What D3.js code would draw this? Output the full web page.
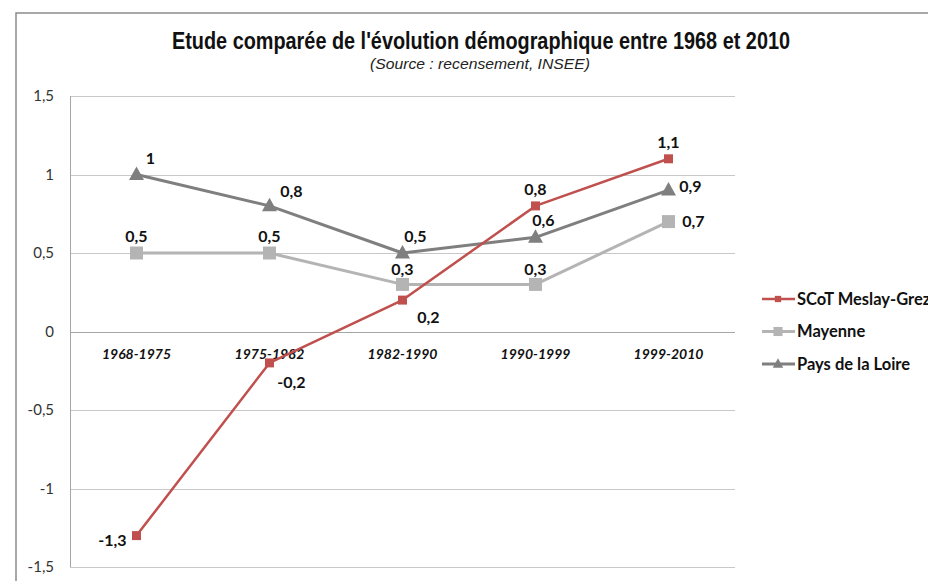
<!DOCTYPE html>
<html>
<head>
<meta charset="utf-8">
<script src="https://cdn.jsdelivr.net/npm/d3@7"></script>
<style>
  body { margin: 0; background: #fff; }
  svg { display: block; }
</style>
</head>
<body>
<div id="chart"></div>
<script>
// Data
const periods = ['1968-1975', '1975-1982', '1982-1990', '1990-1999', '1999-2010'];
const scotValues = [-1.3, -0.2, 0.2, 0.8, 1.1];
const mayenneValues = [0.5, 0.5, 0.3, 0.3, 0.7];
const loireValues = [1, 0.8, 0.5, 0.6, 0.9];
const seriesNames = ['SCoT Meslay-Grez', 'Mayenne', 'Pays de la Loire'];
const yTicks = [-1.5, -1, -0.5, 0, 0.5, 1, 1.5];

// label offsets (dx, dy) per point, for each series
const scotOffsets = [[-24, 5], [22, 20], [26, 18], [0, -16], [0, -16]];
const mayenneOffsets = [[0, -16], [0, -16], [0, -14], [0, -14], [25, 0]];
const loireOffsets = [[14, -16], [22, -14], [13, -16], [8, -16], [22, -3]];

const width = 928;
const height = 581;
const margin = { top: 96, left: 70, right: 193, bottom: 14 };

const svg = d3.select('#chart')
  .append('svg')
  .attr('width', width)
  .attr('height', height);

// outer chart frame
svg.append('path')
  .attr('d', `M16,${height + 2} V13 H${width + 2}`)
  .attr('fill', 'none')
  .attr('stroke', '#8c8c8c')
  .attr('stroke-width', 1.5);

const x = d3.scaleBand()
  .domain(periods)
  .range([margin.left, width - margin.right]);

const y = d3.scaleLinear()
  .domain([-1.5, 1.5])
  .range([height - margin.bottom, margin.top]);

// gridlines
svg.append('g')
  .selectAll('line')
  .data(yTicks)
  .enter()
  .append('line')
  .attr('x1', margin.left)
  .attr('x2', width - margin.right)
  .attr('y1', (d) => Math.round(y(d)) + 0.5)
  .attr('y2', (d) => Math.round(y(d)) + 0.5)
  .attr('stroke', (d) => d === 0 ? '#a6a6a6' : '#c8c8c8')
  .attr('stroke-width', 1);

// y axis line
svg.append('line')
  .attr('x1', margin.left + 0.5)
  .attr('x2', margin.left + 0.5)
  .attr('y1', y(1.5))
  .attr('y2', y(-1.5))
  .attr('stroke', '#a6a6a6');

// y tick labels
const yAxis = d3.axisLeft(y)
  .tickValues(yTicks)
  .tickSize(0)
  .tickPadding(16)
  .tickFormat((d) => String(d).replace('.', ','));

svg.append('g')
  .attr('transform', `translate(${margin.left},0)`)
  .call(yAxis)
  .call((g) => g.select('.domain').remove())
  .selectAll('text')
  .style('font-family', 'Lato, "Open Sans", sans-serif')
  .style('font-size', '15px')
  .style('fill', '#333');

// category labels (sit just below the zero line)
svg.append('g')
  .selectAll('text')
  .data(periods)
  .enter()
  .append('text')
  .attr('x', (d) => x(d) + x.bandwidth() / 2)
  .attr('y', y(0) + 27)
  .attr('text-anchor', 'middle')
  .style('font-family', 'Lato, "Open Sans", sans-serif')
  .style('font-size', '14px')
  .style('font-weight', 'bold')
  .style('font-style', 'italic')
  .style('fill', '#111')
  .text((d) => d);

// title (condensed to mimic Arial Narrow)
svg.append('text')
  .attr('x', 481)
  .attr('y', 49)
  .attr('text-anchor', 'middle')
  .attr('textLength', 618)
  .attr('lengthAdjust', 'spacingAndGlyphs')
  .style('font-family', '"Liberation Sans", Arial, sans-serif')
  .style('font-size', '23px')
  .style('font-weight', 'bold')
  .style('fill', '#111')
  .text("Etude comparée de l'évolution démographique entre 1968 et 2010");

svg.append('text')
  .attr('x', 480)
  .attr('y', 69)
  .attr('text-anchor', 'middle')
  .attr('textLength', 220)
  .attr('lengthAdjust', 'spacingAndGlyphs')
  .style('font-family', '"Liberation Sans", Arial, sans-serif')
  .style('font-size', '15px')
  .style('font-style', 'italic')
  .style('fill', '#222')
  .text('(Source : recensement,  INSEE)');

const series = [
  { name: seriesNames[0], values: scotValues, offsets: scotOffsets, color: '#c0504d', width: 2.5, marker: 'square', size: 9 },
  { name: seriesNames[1], values: mayenneValues, offsets: mayenneOffsets, color: '#b4b4b4', width: 3, marker: 'square', size: 13 },
  { name: seriesNames[2], values: loireValues, offsets: loireOffsets, color: '#7f7f7f', width: 3, marker: 'triangle', size: 15 }
];

const cx = (i) => x(periods[i]) + x.bandwidth() / 2;

const line = d3.line()
  .x((d, i) => cx(i))
  .y((d) => y(d));

const triangle = (s) => {
  const h = s * 0.9;
  return `M0,${-h * 0.6} L${s / 2},${h * 0.4} L${-s / 2},${h * 0.4} Z`;
};

// draw in reverse so red ends up on top like the reference
series.slice().reverse().forEach((s) => {
  const g = svg.append('g');
  g.append('path')
    .datum(s.values)
    .attr('d', line)
    .attr('fill', 'none')
    .attr('stroke', s.color)
    .attr('stroke-width', s.width)
    .attr('stroke-linejoin', 'round');

  g.selectAll('.marker')
    .data(s.values)
    .enter()
    .append('path')
    .attr('class', 'marker')
    .attr('transform', (d, i) => `translate(${cx(i)},${y(d)})`)
    .attr('d', s.marker === 'square'
      ? `M${-s.size / 2},${-s.size / 2} h${s.size} v${s.size} h${-s.size} Z`
      : triangle(s.size))
    .attr('fill', s.color);
});

// value labels on top of everything
series.forEach((s) => {
  svg.append('g')
    .selectAll('text')
    .data(s.values)
    .enter()
    .append('text')
    .attr('x', (d, i) => cx(i) + s.offsets[i][0])
    .attr('y', (d, i) => y(d) + s.offsets[i][1] + 5)
    .attr('text-anchor', 'middle')
    .style('font-family', 'Lato, "Open Sans", sans-serif')
    .style('font-size', '16px')
    .style('font-weight', 'bold')
    .style('fill', '#111')
    .text((d) => String(d).replace('.', ','));
});

// legend
const legend = svg.append('g')
  .attr('transform', 'translate(762,299)');

const legendRows = legend.selectAll('g')
  .data(series)
  .enter()
  .append('g')
  .attr('transform', (d, i) => `translate(0,${i * 32.5})`);

legendRows.append('line')
  .attr('x1', 0)
  .attr('x2', 33)
  .attr('stroke', (d) => d.color)
  .attr('stroke-width', (d) => d.width);

legendRows.append('path')
  .attr('transform', 'translate(16,0)')
  .attr('d', (d) => {
    const sz = d.size * 0.7;
    return d.marker === 'square'
      ? `M${-sz / 2},${-sz / 2} h${sz} v${sz} h${-sz} Z`
      : triangle(sz);
  })
  .attr('fill', (d) => d.color);

legendRows.append('text')
  .attr('x', 35)
  .attr('y', 5.5)
  .style('font-family', 'Lato, "Open Sans", sans-serif')
  .style('font-size', '16.5px')
  .style('font-weight', 'bold')
  .style('fill', '#111')
  .text((d) => d.name);
</script>
</body>
</html>
